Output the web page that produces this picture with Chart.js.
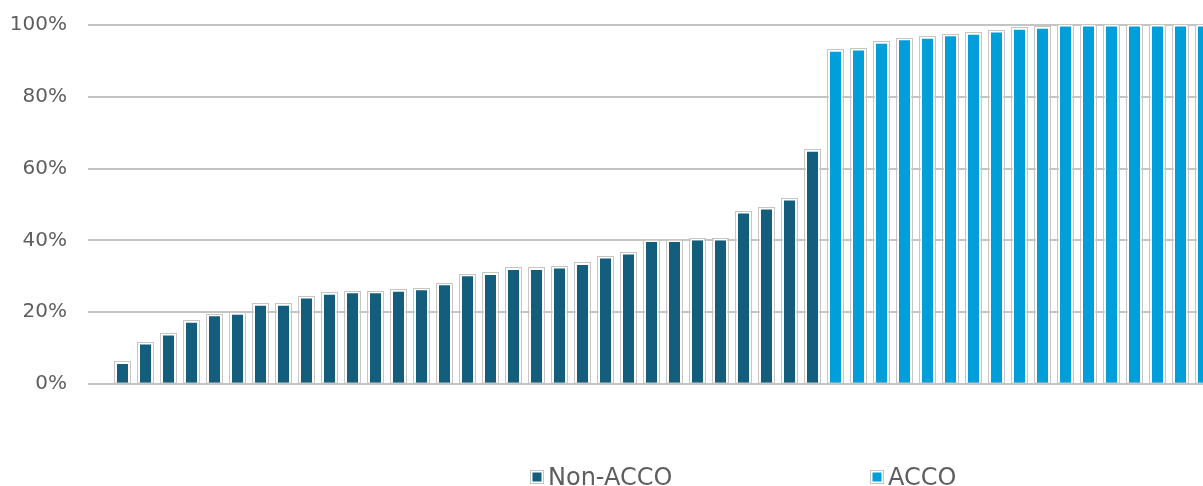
<!DOCTYPE html>
<html>
<head>
<meta charset="utf-8">
<title>Non-ACCO vs ACCO</title>
<script src="https://cdn.jsdelivr.net/npm/chart.js@4.4.1/dist/chart.umd.min.js"></script>
<style>
  html, body { margin: 0; padding: 0; background: #ffffff; overflow: hidden; }
  #wrap { position: relative; width: 1215px; height: 486px; }
</style>
</head>
<body>
<div id="wrap"><canvas id="chart"></canvas></div>
<script>
// Share per entity (%), sorted ascending within each group
const nonAccoShares = [6.0, 11.4, 13.9, 17.5, 19.3, 19.7, 22.2, 22.2, 24.2, 25.3, 25.7,
                       25.7, 26.1, 26.5, 27.9, 30.4, 30.8, 32.2, 32.2, 32.6, 33.6, 35.4,
                       36.5, 40.0, 40.0, 40.4, 40.4, 47.9, 49.0, 51.5, 65.1];
const accoShares = [93.0, 93.3, 95.2, 96.2, 96.6, 97.3, 97.7, 98.3, 99.1, 99.4,
                    100, 100, 100, 100, 100, 100, 100];
const yTicks = [0, 20, 40, 60, 80, 100];
const seriesNames = ['Non-ACCO', 'ACCO'];
const seriesColors = ['#125E7C', '#009FD9'];

// One blank leading slot, then every entity in rank order
const categories = [''].concat(
  nonAccoShares.map((_, i) => 'Non-ACCO ' + (i + 1)),
  accoShares.map((_, i) => 'ACCO ' + (i + 1))
);
const nonAccoData = [null].concat(nonAccoShares, accoShares.map(() => null));
const accoData = [null].concat(nonAccoShares.map(() => null), accoShares);

const TEXT_GREY = '#5E5E5E';
const OUTLINE_GREY = '#C6C6C6';
const FONT_FAMILY = '"DejaVu Sans", sans-serif';

// Thin grey frame drawn just outside each bar's white border
const barOutline = {
  id: 'barOutline',
  afterDatasetsDraw(chart) {
    const ctx = chart.ctx;
    ctx.save();
    ctx.strokeStyle = OUTLINE_GREY;
    ctx.lineWidth = 1;
    chart.data.datasets.forEach((ds, di) => {
      const meta = chart.getDatasetMeta(di);
      meta.data.forEach((bar, i) => {
        if (ds.data[i] === null || ds.data[i] === undefined) return;
        const p = bar.getProps(['x', 'y', 'base', 'width'], true);
        const left = Math.round(p.x - p.width / 2) - 0.5;
        const right = Math.round(p.x + p.width / 2) + 0.5;
        const top = Math.round(p.y) - 0.5;
        ctx.strokeRect(left, top, right - left, p.base - top);
      });
    });
    ctx.restore();
  }
};

// Legend row under the plot, items spaced apart
const legendStarts = [530, 870];
const spacedLegend = {
  id: 'spacedLegend',
  afterDraw(chart) {
    const ctx = chart.ctx;
    ctx.save();
    ctx.font = '24px ' + FONT_FAMILY;
    ctx.textBaseline = 'alphabetic';
    ctx.textAlign = 'left';
    chart.data.datasets.forEach((ds, i) => {
      const x = legendStarts[i];
      const yTop = 470;
      ctx.strokeStyle = OUTLINE_GREY;
      ctx.lineWidth = 1;
      ctx.strokeRect(x + 0.5, yTop + 0.5, 13, 13);
      ctx.fillStyle = ds.backgroundColor;
      ctx.fillRect(x + 2.5, yTop + 2.5, 9, 9);
      ctx.fillStyle = TEXT_GREY;
      ctx.fillText(ds.label, x + 18, 485);
    });
    ctx.restore();
  }
};

new Chart(document.getElementById('chart'), {
  type: 'bar',
  data: {
    labels: categories,
    datasets: [
      {
        label: seriesNames[0],
        data: nonAccoData,
        backgroundColor: seriesColors[0]
      },
      {
        label: seriesNames[1],
        data: accoData,
        backgroundColor: seriesColors[1]
      }
    ]
  },
  options: {
    responsive: true,
    maintainAspectRatio: false,
    animation: false,
    layout: { padding: { left: 0, right: 0, top: 25, bottom: 102 } },
    datasets: {
      bar: {
        grouped: false,
        categoryPercentage: 1,
        barPercentage: 0.61,
        borderColor: '#FFFFFF',
        borderWidth: 1.5
      }
    },
    scales: {
      x: {
        display: false,
        offset: true
      },
      y: {
        min: 0,
        max: 100,
        afterBuildTicks(scale) {
          scale.ticks = yTicks.map(v => ({ value: v }));
        },
        afterFit(scale) {
          scale.width = 88;
          // the layout padding already leaves room for the end labels
          scale.paddingTop = 0;
          scale.paddingBottom = 0;
        },
        border: { display: false },
        grid: {
          color: '#C4C4C4',
          lineWidth: 2,
          drawTicks: false
        },
        ticks: {
          padding: 21,
          color: TEXT_GREY,
          font: { family: FONT_FAMILY, size: 20 },
          callback: v => v + '%'
        }
      }
    },
    plugins: {
      legend: { display: false },
      tooltip: { enabled: false }
    }
  },
  plugins: [barOutline, spacedLegend]
});
</script>
</body>
</html>
